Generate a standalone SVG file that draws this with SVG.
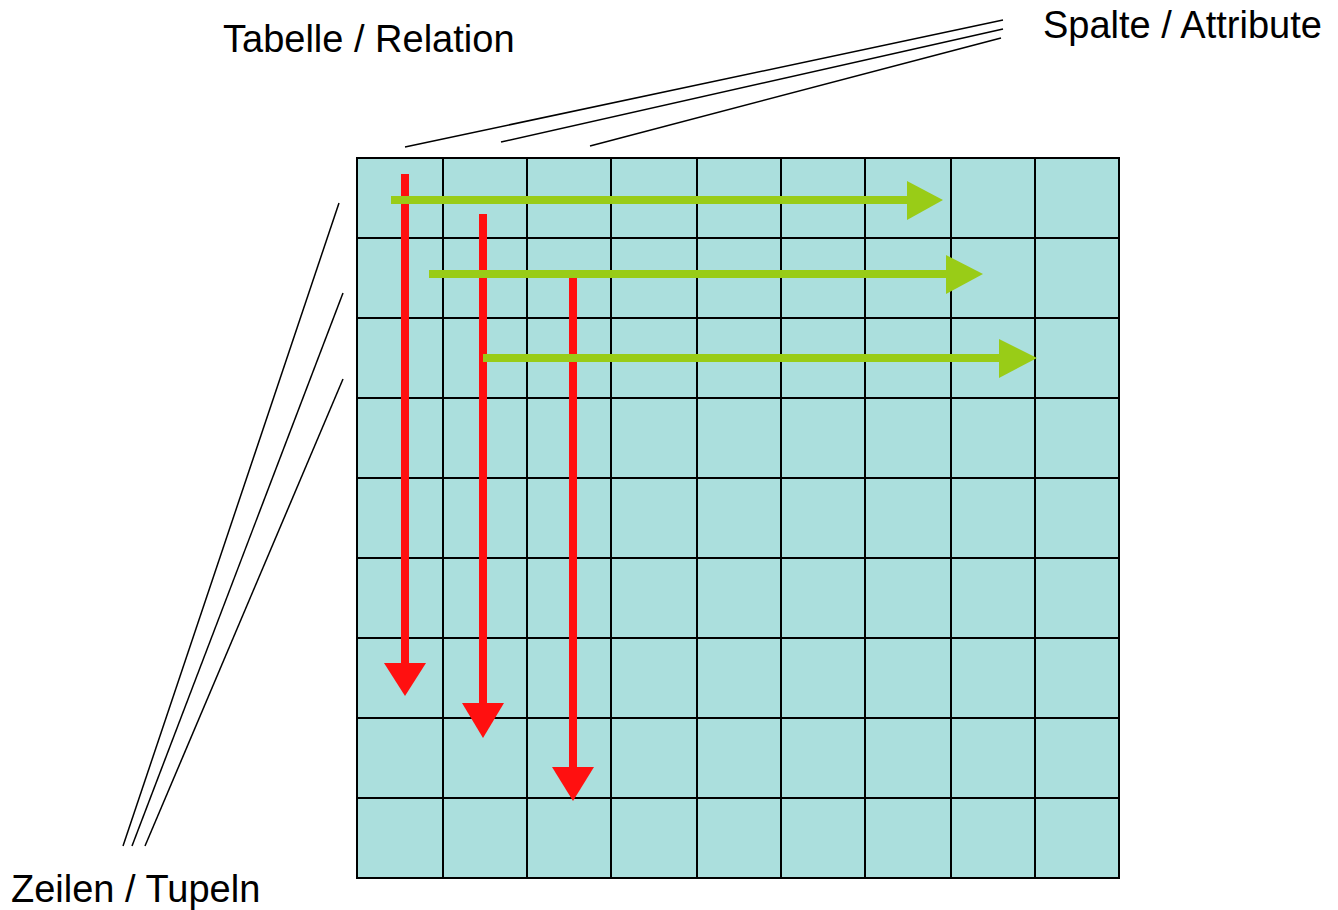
<svg xmlns="http://www.w3.org/2000/svg" width="1338" height="910" viewBox="0 0 1338 910">
  <style>
    .label { font-family: "Liberation Sans", Arial, sans-serif; font-size: 38px; fill: #000000; }
    .cell { fill: #abdfdd; stroke: #000000; stroke-width: 2; }
    .grid { stroke: #000000; stroke-width: 2; fill: none; }
    .lead { stroke: #000000; stroke-width: 1.5; fill: none; }
    .red-shaft { stroke: #ff1010; stroke-width: 8; fill: none; }
    .red-head { fill: #ff1010; }
    .green-shaft { stroke: #99cc17; stroke-width: 8; fill: none; }
    .green-head { fill: #99cc17; }
  </style>
  <rect x="0" y="0" width="1338" height="910" fill="#ffffff"/>

  <!-- table: 9 columns x 9 rows -->
  <g id="table">
    <rect class="cell" x="357" y="158" width="762" height="720"/>
    <path class="grid" d="M443 158V878 M527 158V878 M611 158V878 M697 158V878 M781 158V878 M865 158V878 M951 158V878 M1035 158V878"/>
    <path class="grid" d="M357 238H1119 M357 318H1119 M357 398H1119 M357 478H1119 M357 558H1119 M357 638H1119 M357 718H1119 M357 798H1119"/>
  </g>

  <!-- labels -->
  <g id="label-table">
    <text class="label" x="223" y="52">Tabelle / Relation</text>
  </g>
  <g id="label-columns">
    <text class="label" x="1043" y="38">Spalte / Attribute</text>
  </g>
  <g id="label-rows">
    <text class="label" x="11" y="902">Zeilen / Tupeln</text>
  </g>

  <!-- connectors: leader lines and row/column arrows -->
  <g id="connectors">
    <g id="leaders-columns">
      <line class="lead" x1="405" y1="147" x2="1003" y2="20"/>
      <line class="lead" x1="501" y1="142" x2="1003" y2="29"/>
      <line class="lead" x1="590" y1="146" x2="1001" y2="38"/>
    </g>
    <g id="leaders-rows">
      <line class="lead" x1="339" y1="203" x2="123" y2="846"/>
      <line class="lead" x1="343" y1="293" x2="132" y2="846"/>
      <line class="lead" x1="343" y1="379" x2="145" y2="846"/>
    </g>
    <g id="column-arrows">
      <line class="red-shaft" x1="405" y1="174" x2="405" y2="664"/>
      <polygon class="red-head" points="384,663 426,663 405,696"/>
      <line class="red-shaft" x1="483" y1="214" x2="483" y2="704"/>
      <polygon class="red-head" points="462,703 504,703 483,738"/>
      <line class="red-shaft" x1="573" y1="278" x2="573" y2="768"/>
      <polygon class="red-head" points="552,767 594,767 573,801"/>
    </g>
    <g id="row-arrows">
      <line class="green-shaft" x1="391" y1="200" x2="908" y2="200"/>
      <polygon class="green-head" points="907,181 907,220 943,200"/>
      <line class="green-shaft" x1="429" y1="274" x2="947" y2="274"/>
      <polygon class="green-head" points="946,255 946,294 983,274"/>
      <line class="green-shaft" x1="483" y1="358" x2="1000" y2="358"/>
      <polygon class="green-head" points="999,339 999,378 1037,358"/>
    </g>
  </g>
</svg>
